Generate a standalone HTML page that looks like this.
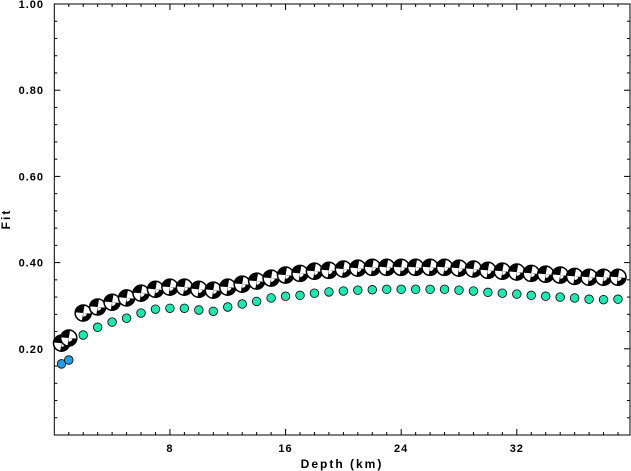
<!DOCTYPE html>
<html><head><meta charset="utf-8"><style>
body{margin:0;background:#fff;}
svg{display:block;font-family:"Liberation Sans",sans-serif;}
</style></head><body>
<svg id="chart" width="631" height="471" viewBox="0 0 631 471" xmlns="http://www.w3.org/2000/svg">
<g id="axes"></g><g id="marks"></g>
</svg>
<script>
const depths=[0.5,1,2,3,4,5,6,7,8,9,10,11,12,13,14,15,16,17,18,19,20,21,22,23,24,25,26,27,28,29,30,31,32,33,34,35,36,37,38,39];
const mechFit=[0.213,0.225,0.283,0.297,0.308,0.318,0.329,0.338,0.343,0.343,0.338,0.336,0.343,0.350,0.357,0.364,0.371,0.375,0.380,0.382,0.385,0.387,0.389,0.389,0.389,0.389,0.389,0.389,0.387,0.385,0.382,0.380,0.378,0.375,0.373,0.371,0.368,0.366,0.366,0.366];
const dotFit=[0.165,0.174,0.232,0.250,0.262,0.271,0.283,0.292,0.294,0.294,0.290,0.287,0.297,0.304,0.310,0.318,0.322,0.324,0.329,0.332,0.334,0.336,0.337,0.338,0.338,0.338,0.338,0.338,0.336,0.334,0.331,0.329,0.327,0.324,0.322,0.320,0.318,0.315,0.314,0.315];
const xTicks=[8,16,24,32];
const yTicks=[0.20,0.40,0.60,0.80,1.00];
const L=54.3,R=631,T=4,B=435,XMAX=39.9;
const xs=d=>L+d*(R-L)/XMAX;
const ys=v=>B-v*(B-T);
const NS="http://www.w3.org/2000/svg";
function mk(tag,parent,attrs){const e=document.createElementNS(NS,tag);for(const k in attrs)e.setAttribute(k,attrs[k]);parent.appendChild(e);return e;}
const ax=document.getElementById('axes'),mk_=document.getElementById('marks');
const frame=mk('rect',ax,{x:L,y:T,width:R-L-1,height:B-T,fill:'none',stroke:'#000','stroke-width':1});


for(let d=1;d<XMAX;d++){const big=d%8===0;const x=xs(d);
 const t=mk('line',ax,{x1:x,x2:x,y1:B,y2:B-(big?6:3),stroke:'#000'});
 
 
 const t2=mk('line',ax,{x1:x,x2:x,y1:T,y2:T+(big?6:3),stroke:'#000'});
 
 }
xTicks.forEach(d=>{const t=mk('text',ax,{x:xs(d),y:452,'text-anchor':'middle','font-size':11,'font-weight':'bold','letter-spacing':1});t.textContent=d;
 
 });
for(let i=1;i<25;i++){const v=i*0.04;const big=i%5===0;const y=ys(v);
 const t=mk('line',ax,{x1:L,x2:L+(big?6:3),y1:y,y2:y,stroke:'#000'});
 
 
 const t2=mk('line',ax,{x1:R-1,x2:R-1-(big?6:3),y1:y,y2:y,stroke:'#000'});
 
 }
yTicks.forEach(v=>{const t=mk('text',ax,{x:44,y:ys(v)+4,'text-anchor':'end','font-size':11,'font-weight':'bold','letter-spacing':1});t.textContent=v.toFixed(2);
 
 });
const xt=mk('text',ax,{x:342,y:468,'text-anchor':'middle','font-size':12,'font-weight':'bold','letter-spacing':2});xt.textContent='Depth (km)';


const yt=mk('text',ax,{x:0,y:0,'text-anchor':'middle','font-size':12,'font-weight':'bold','letter-spacing':2,transform:'translate(10,219) rotate(-90)'});yt.textContent='Fit';


dotFit.forEach((v,i)=>{const c=mk('circle',mk_,{cx:xs(depths[i]),cy:ys(v),r:4.3,fill:i<2?'#1ea0e6':'#1ee8b0',stroke:'#000','stroke-width':0.8});
 
 });
function wedge(cx,cy,r,a1,a2){const p=a=>[cx+r*Math.cos(a*Math.PI/180),cy+r*Math.sin(a*Math.PI/180)];const s=p(a1),e=p(a2);return `M${cx},${cy}L${s[0]},${s[1]}A${r},${r} 0 0 1 ${e[0]},${e[1]}Z`;}
mechFit.forEach((v,i)=>{const cx=xs(depths[i]),cy=ys(v),r=8.3;
 const g=mk('g',mk_,{});
 
 
 mk('circle',g,{cx,cy,r,fill:'#000'});
 mk('path',g,{d:wedge(cx,cy,r-1,-80,5),fill:'#fff'});
 mk('path',g,{d:wedge(cx,cy,r-1,100,185),fill:'#fff'});
 mk('path',g,{d:wedge(cx,cy,r*0.45,10,90),fill:'#fff'});
 mk('circle',g,{cx,cy,r,fill:'none',stroke:'#000','stroke-width':1});});
</script>
</body></html>
